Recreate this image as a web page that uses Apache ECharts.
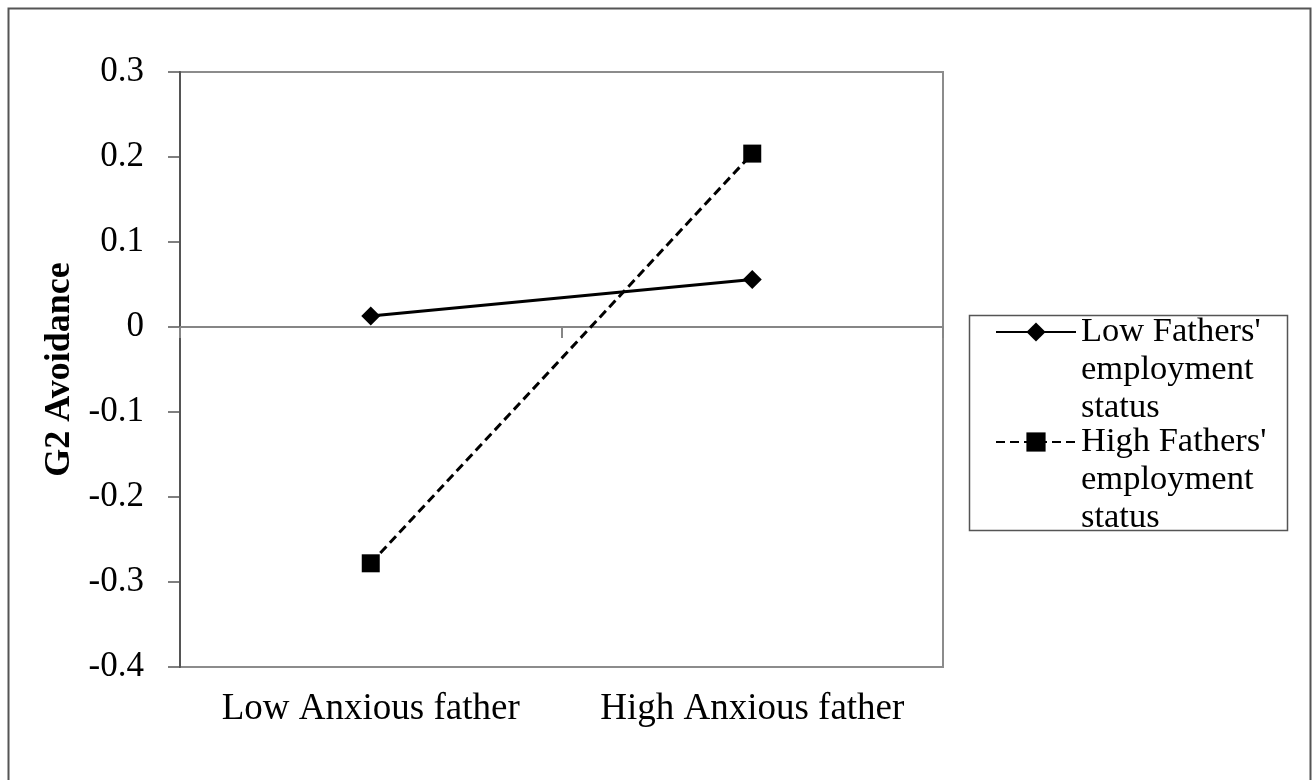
<!DOCTYPE html>
<html>
<head>
<meta charset="utf-8">
<script src="https://cdn.jsdelivr.net/npm/echarts@6/dist/echarts.min.js"></script>
<style>
html,body{margin:0;padding:0;background:#fff;}
#chart{width:1312px;height:780px;}
</style>
</head>
<body>
<div id="chart"></div>
<script>
const categories = ['Low Anxious father', 'High Anxious father'];
const seriesNames = ["Low Fathers'\nemployment\nstatus", "High Fathers'\nemployment\nstatus"];
const lowEmployment = [0.013, 0.056];
const highEmployment = [-0.278, 0.204];
const yMin = -0.4, yMax = 0.3, yStep = 0.1;
const yAxisTitle = 'G2 Avoidance';

const serif = '"Liberation Serif", "Times New Roman", serif';
const chart = echarts.init(document.getElementById('chart'), null, {renderer: 'canvas'});

chart.setOption({
  animation: false,
  backgroundColor: '#fff',
  grid: {
    left: 180, right: 369, top: 72, bottom: 113,
    show: true, borderColor: '#8c8c8c', borderWidth: 2, backgroundColor: 'transparent'
  },
  xAxis: [
    {
      type: 'category', data: categories, boundaryGap: true, position: 'bottom',
      axisLine: {show: false, onZero: false},
      axisTick: {show: false},
      axisLabel: {fontFamily: serif, fontSize: 37, color: '#000', margin: 24, interval: 0, hideOverlap: false},
      splitLine: {show: false}
    },
    {
      type: 'category', data: categories, boundaryGap: true, position: 'bottom',
      axisLine: {show: true, onZero: true, lineStyle: {color: '#868686', width: 2}},
      axisTick: {show: true, length: 11, lineStyle: {color: '#868686', width: 2}},
      axisLabel: {show: false},
      splitLine: {show: false}
    }
  ],
  yAxis: {
    type: 'value', min: yMin, max: yMax, interval: yStep,
    name: yAxisTitle, nameLocation: 'middle', nameRotate: 90, nameGap: 38,
    nameTextStyle: {fontFamily: serif, fontSize: 36, fontWeight: 'bold', color: '#000'},
    axisLine: {show: true, lineStyle: {color: '#555', width: 2}},
    axisTick: {show: true, length: 12, lineStyle: {color: '#555', width: 1.5}},
    axisLabel: {
      fontFamily: serif, fontSize: 35, color: '#000', margin: 36,
      formatter: function (v) { const r = Math.round(v * 10) / 10; return r === 0 ? '0' : String(r); }
    },
    splitLine: {show: false}
  },
  legend: {
    orient: 'vertical', left: 995, top: 237, padding: 0,
    itemWidth: 80, itemHeight: 24, itemGap: -80,
    formatter: function (name) { return '\n\n' + name; },
    textStyle: {fontFamily: serif, fontSize: 34.5, color: '#000', lineHeight: 38},
    data: seriesNames
  },
  series: [
    {
      name: seriesNames[0], type: 'line', xAxisIndex: 0, data: lowEmployment,
      symbol: 'diamond', symbolSize: 19,
      lineStyle: {color: '#000', width: 3, type: 'solid'},
      itemStyle: {color: '#000'}
    },
    {
      name: seriesNames[1], type: 'line', xAxisIndex: 0, data: highEmployment,
      symbol: 'rect', symbolSize: 18,
      lineStyle: {color: '#000', width: 3, type: [9, 5]},
      itemStyle: {color: '#000'}
    }
  ],
  graphic: [
    {type: 'rect', shape: {x: 8.5, y: 8.5, width: 1302, height: 790}, style: {fill: 'none', stroke: '#555', lineWidth: 2}, silent: true},
    {type: 'rect', shape: {x: 969.5, y: 315.5, width: 318, height: 215}, style: {fill: 'none', stroke: '#555', lineWidth: 1.5}, silent: true}
  ]
});
</script>
</body>
</html>
